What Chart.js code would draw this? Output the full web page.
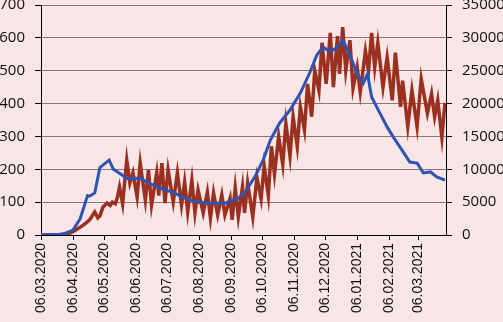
<!DOCTYPE html>
<html>
<head>
<meta charset="utf-8">
<script src="https://cdn.jsdelivr.net/npm/chart.js@4"></script>
<style>
  html, body { margin: 0; padding: 0; background: #f8e5e5; }
  canvas { display: block; }
</style>
</head>
<body>
<canvas id="chart" width="503" height="322"></canvas>
<script>
// days counted from 06.03.2020
var monthDays = [0, 31, 61, 92, 122, 153, 184, 214, 245, 275, 306, 337, 365];
var monthLabels = ['06.03.2020', '06.04.2020', '06.05.2020', '06.06.2020', '06.07.2020',
  '06.08.2020', '06.09.2020', '06.10.2020', '06.11.2020', '06.12.2020',
  '06.01.2021', '06.02.2021', '06.03.2021'];

// brown series, left axis
var brownDays = [0, 20, 25, 28, 33, 38, 43, 47, 52, 55, 57, 60, 64, 67, 69, 72, 74, 76, 79, 83,
  86, 89, 93, 96, 101, 104, 107, 112, 114, 117, 120, 123, 128, 132, 136, 139, 142, 146, 149, 152,
  157, 161, 164, 167, 171, 175, 178, 183, 185, 188, 191, 195, 197, 200, 205, 209, 213, 216, 220, 223,
  226, 230, 234, 237, 241, 244, 248, 251, 255, 258, 262, 265, 269, 272, 276, 280, 283, 287, 289, 292,
  295, 299, 302, 306, 309, 314, 317, 320, 323, 326, 331, 335, 340, 343, 348, 350, 355, 359, 364, 368,
  374, 378, 381, 384, 388, 391];
var brownValues = [0, 1, 3, 6, 14, 24, 35, 46, 70, 52, 58, 85, 97, 90, 100, 95, 116, 146, 95, 228,
  158, 189, 116, 219, 106, 198, 91, 189, 120, 219, 97, 198, 100, 189, 91, 161, 70, 167, 67, 137,
  67, 131, 52, 128, 61, 122, 61, 112, 46, 143, 55, 146, 67, 158, 55, 175, 110, 210, 120, 270,
  185, 300, 215, 340, 240, 360, 270, 390, 320, 460, 360, 500, 440, 585, 460, 615, 450, 605, 490, 633,
  500, 593, 447, 511, 435, 560, 500, 615, 510, 585, 450, 540, 410, 555, 390, 470, 330, 440, 330, 475,
  370, 430, 360, 410, 298, 402];

// blue series, right axis
var blueDays = [0, 18, 23, 31, 38, 43, 45, 47, 52, 57, 62, 66, 70, 76, 83, 96, 104, 110, 120, 127,
  139, 152, 166, 178, 191, 197, 207, 215, 222, 231, 241, 251, 260, 267, 273, 280, 287, 292, 299, 306,
  312, 316, 320, 328, 335, 341, 348, 357, 364, 370, 377, 383, 391];
var blueValues = [0, 100, 250, 750, 2500, 5000, 6000, 5900, 6400, 10250, 10900, 11400, 10000, 9400, 8600, 8650, 7900, 7500, 6850, 6550,
  5600, 5000, 4850, 4850, 5600, 6400, 8850, 11400, 14450, 17050, 19000, 21600, 24650, 27400, 28600, 27850, 28600, 29650, 27400, 24500,
  23100, 24500, 21000, 18550, 16450, 14900, 13250, 11100, 10950, 9450, 9600, 8850, 8350];

function pairs(xs, ys) {
  return xs.map(function(x, i) { return { x: x, y: ys[i] }; });
}

function noPad(axis) {
  axis.paddingTop = 0;
  axis.paddingBottom = 0;
  axis.paddingLeft = 0;
  axis.paddingRight = 0;
}

var bgPlugin = {
  id: 'bg',
  beforeDraw: function(chart) {
    var c = chart.ctx;
    c.save();
    c.fillStyle = '#f8e5e5';
    c.fillRect(0, 0, chart.width, chart.height);
    c.restore();
  }
};

var ctx = document.getElementById('chart');
var chart = new Chart(ctx, {
  type: 'line',
  data: {
    datasets: [
      {
        data: pairs(blueDays, blueValues),
        yAxisID: 'y1',
        borderColor: '#3053b0',
        borderWidth: 3,
        pointRadius: 0,
        tension: 0
      },
      {
        data: pairs(brownDays, brownValues),
        yAxisID: 'y',
        borderColor: '#9c3020',
        borderWidth: 3.5,
        pointRadius: 0,
        tension: 0
      }
    ]
  },
  options: {
    responsive: false,
    animation: false,
    devicePixelRatio: 1,
    layout: { padding: { top: 5, left: 0, right: 0, bottom: 0 } },
    plugins: { legend: { display: false }, tooltip: { enabled: false } },
    scales: {
      x: {
        type: 'linear',
        min: 0,
        max: 392,
        afterBuildTicks: function(axis) {
          axis.ticks = monthDays.map(function(d) { return { value: d }; });
        },
        afterFit: function(axis) { axis.height = 87; noPad(axis); },
        grid: { drawOnChartArea: false, tickLength: 5, color: '#000' },
        border: { color: '#000', width: 1 },
        ticks: {
          autoSkip: false,
          minRotation: 90,
          maxRotation: 90,
          padding: 3,
          color: '#111',
          font: { family: 'Liberation Sans', size: 14 },
          callback: function(v) {
            var i = monthDays.indexOf(v);
            return i >= 0 ? monthLabels[i] : '';
          }
        }
      },
      y: {
        position: 'left',
        min: 0,
        max: 700,
        afterFit: function(axis) { axis.width = 41; noPad(axis); },
        grid: { color: '#8a7878', tickColor: '#000', tickLength: 6 },
        border: { color: '#000', width: 1 },
        ticks: {
          stepSize: 100,
          padding: 10,
          color: '#111',
          font: { family: 'Open Sans', size: 15 },
          callback: function(v) { return String(v); }
        }
      },
      y1: {
        position: 'right',
        min: 0,
        max: 35000,
        afterFit: function(axis) { axis.width = 57; noPad(axis); },
        grid: { drawOnChartArea: false, tickColor: '#000', tickLength: 6 },
        border: { color: '#000', width: 1 },
        ticks: {
          stepSize: 5000,
          padding: 10,
          color: '#111',
          font: { family: 'Open Sans', size: 15 },
          callback: function(v) { return String(v); }
        }
      }
    }
  },
  plugins: [bgPlugin]
});
</script>
</body>
</html>
